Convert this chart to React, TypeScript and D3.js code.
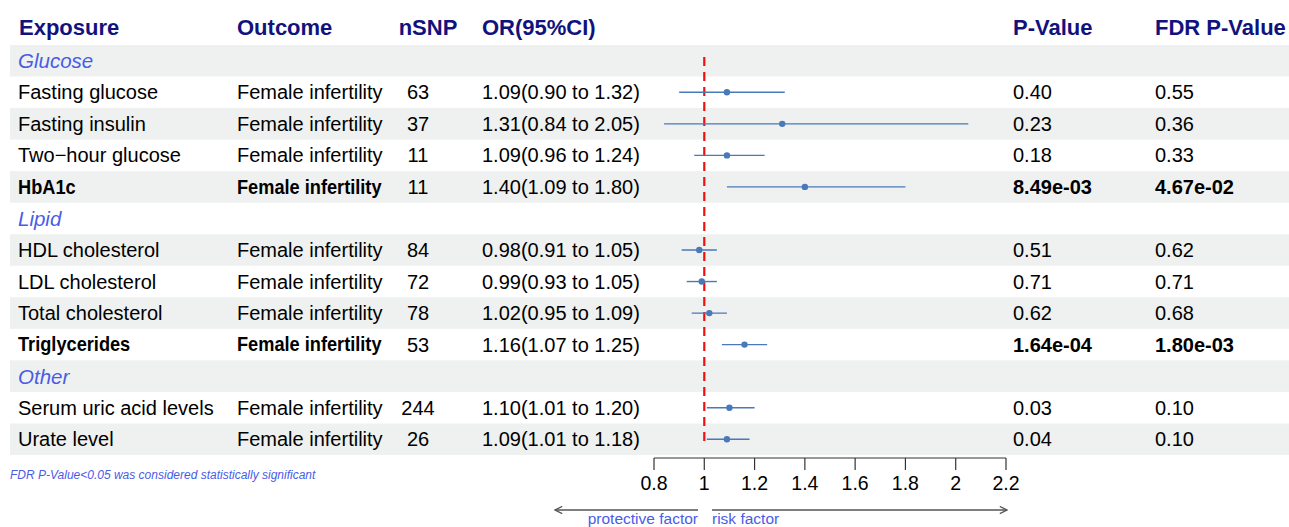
import React from "react";
import * as d3 from "d3";

// Table rows (group headers have no estimates)
const exposures = [
  "Glucose", "Fasting glucose", "Fasting insulin", "Two\u2212hour glucose", "HbA1c",
  "Lipid", "HDL cholesterol", "LDL cholesterol", "Total cholesterol", "Triglycerides",
  "Other", "Serum uric acid levels", "Urate level",
];
const isGroup = [true, false, false, false, false, true, false, false, false, false, true, false, false];
const outcomes = ["", "Female infertility", "Female infertility", "Female infertility", "Female infertility", "", "Female infertility", "Female infertility", "Female infertility", "Female infertility", "", "Female infertility", "Female infertility"];
const nSNP = ["", "63", "37", "11", "11", "", "84", "72", "78", "53", "", "244", "26"];
const orEst = [NaN, 1.09, 1.31, 1.09, 1.40, NaN, 0.98, 0.99, 1.02, 1.16, NaN, 1.10, 1.09];
const orLow = [NaN, 0.90, 0.84, 0.96, 1.09, NaN, 0.91, 0.93, 0.95, 1.07, NaN, 1.01, 1.01];
const orHigh = [NaN, 1.32, 2.05, 1.24, 1.80, NaN, 1.05, 1.05, 1.09, 1.25, NaN, 1.20, 1.18];
const pValues = ["", "0.40", "0.23", "0.18", "8.49e-03", "", "0.51", "0.71", "0.62", "1.64e-04", "", "0.03", "0.04"];
const fdrValues = ["", "0.55", "0.36", "0.33", "4.67e-02", "", "0.62", "0.71", "0.68", "1.80e-03", "", "0.10", "0.10"];
const xTicks = [0.8, 1, 1.2, 1.4, 1.6, 1.8, 2, 2.2];

const W = 1289;
const H = 527;
const FONT = "'Liberation Sans', Arial, Helvetica, sans-serif";
const HEADER_COLOR = "#12127e";
const GROUP_COLOR = "#4a5ce6";
const BAND = "#eef1ef";
const CI_COLOR = "#4a79b7";

const fmt = (v: number) => v.toFixed(2);

// bold row labels are drawn slightly condensed
const BOLD_SX = 0.91;

export default function App() {
  const x = d3.scaleLinear().domain([0.8, 2.2]).range([654, 1006]);
  const y = d3.scaleBand<number>().domain(d3.range(exposures.length)).range([45, 455]);
  const rowH = y.bandwidth();
  const cy = (i: number) => (y(i) as number) + rowH / 2;
  const axisY = 458;
  const bodySize = 20;

  const sig = (i: number) => {
    const f = parseFloat(fdrValues[i]);
    return !isNaN(f) && f < 0.05;
  };

  const label = (tx: number, ty: number, s: string, bold: boolean) =>
    bold ? (
      <text transform={`translate(${tx},${ty}) scale(${BOLD_SX},1)`} fontWeight="bold">{s}</text>
    ) : (
      <text x={tx} y={ty}>{s}</text>
    );

  return (
    <svg width={W} height={H} style={{ position: "absolute", left: 0, top: 0, fontFamily: FONT }}>
      <defs>
        <marker id="arrowHead" viewBox="0 0 10 10" refX="9" refY="5" markerWidth="9" markerHeight="9" orient="auto-start-reverse" markerUnits="userSpaceOnUse">
          <path d="M1,1 L9,5 L1,9" fill="none" stroke="#555" strokeWidth={1.4} />
        </marker>
      </defs>
      <rect width={W} height={H} fill="#fff" />

      {/* alternating row bands */}
      {exposures.map((_, i) =>
        i % 2 === 0 ? (
          <rect key={`b${i}`} x={10} y={y(i)} width={W - 10} height={rowH} fill={BAND} />
        ) : null
      )}

      {/* column headers */}
      <g fontWeight="bold" fontSize={22} fill={HEADER_COLOR} dominantBaseline="central">
        <text x={19} y={27}>Exposure</text>
        <text x={237} y={27}>Outcome</text>
        <text x={428} y={27} textAnchor="middle">nSNP</text>
        <text x={482} y={27}>OR(95%CI)</text>
        <text x={1013} y={27}>P-Value</text>
        <text x={1155} y={27}>FDR P-Value</text>
      </g>

      {/* table body */}
      {exposures.map((name, i) => {
        const yy = cy(i);
        if (isGroup[i]) {
          return (
            <text key={`g${i}`} x={18} y={yy} fontSize={20.5} fontStyle="italic" fill={GROUP_COLOR} dominantBaseline="central">
              {name}
            </text>
          );
        }
        const b = sig(i);
        return (
          <g key={`r${i}`} fontSize={bodySize} fill="#000" dominantBaseline="central">
            {label(18, yy, name, b)}
            {label(237, yy, outcomes[i], b)}
            <text x={418} y={yy} textAnchor="middle">{nSNP[i]}</text>
            <text x={482} y={yy}>{`${fmt(orEst[i])}(${fmt(orLow[i])} to ${fmt(orHigh[i])})`}</text>
            <text x={1013} y={yy} fontWeight={b ? "bold" : "normal"}>{pValues[i]}</text>
            <text x={1155} y={yy} fontWeight={b ? "bold" : "normal"}>{fdrValues[i]}</text>
          </g>
        );
      })}

      {/* reference line at OR = 1 */}
      <line x1={x(1)} x2={x(1)} y1={57} y2={447} stroke="#f01010" strokeWidth={2.2} strokeDasharray="9,6" />

      {/* confidence intervals and point estimates */}
      {exposures.map((_, i) =>
        isGroup[i] ? null : (
          <g key={`ci${i}`}>
            <line x1={x(orLow[i])} x2={x(orHigh[i])} y1={cy(i)} y2={cy(i)} stroke={CI_COLOR} strokeWidth={1.4} />
            <circle cx={x(orEst[i])} cy={cy(i)} r={3.2} fill={CI_COLOR} />
          </g>
        )
      )}

      {/* x axis */}
      <g stroke="#333" strokeWidth={1.2}>
        <line x1={x(0.8)} x2={x(2.2)} y1={axisY} y2={axisY} />
        {xTicks.map((t) => (
          <line key={`t${t}`} x1={x(t)} x2={x(t)} y1={axisY} y2={axisY + 12} />
        ))}
      </g>
      <g fontSize={19.5} fill="#000" textAnchor="middle" dominantBaseline="central">
        {xTicks.map((t) => (
          <text key={`l${t}`} x={x(t)} y={483}>{d3.format("~g")(t)}</text>
        ))}
      </g>

      {/* direction arrows */}
      <line x1={698} x2={555} y1={510} y2={510} stroke="#555" strokeWidth={1.4} markerEnd="url(#arrowHead)" />
      <line x1={712} x2={1007} y1={510} y2={510} stroke="#555" strokeWidth={1.4} markerEnd="url(#arrowHead)" />
      <text x={698} y={523.5} fontSize={15.5} fill={GROUP_COLOR} textAnchor="end">protective factor</text>
      <text x={712} y={523.5} fontSize={15.5} fill={GROUP_COLOR}>risk factor</text>

      {/* footnote */}
      <text x={10} y={475} fontSize={12} fontStyle="italic" fill={GROUP_COLOR} dominantBaseline="central">
        FDR P-Value&lt;0.05 was considered statistically significant
      </text>
    </svg>
  );
}
